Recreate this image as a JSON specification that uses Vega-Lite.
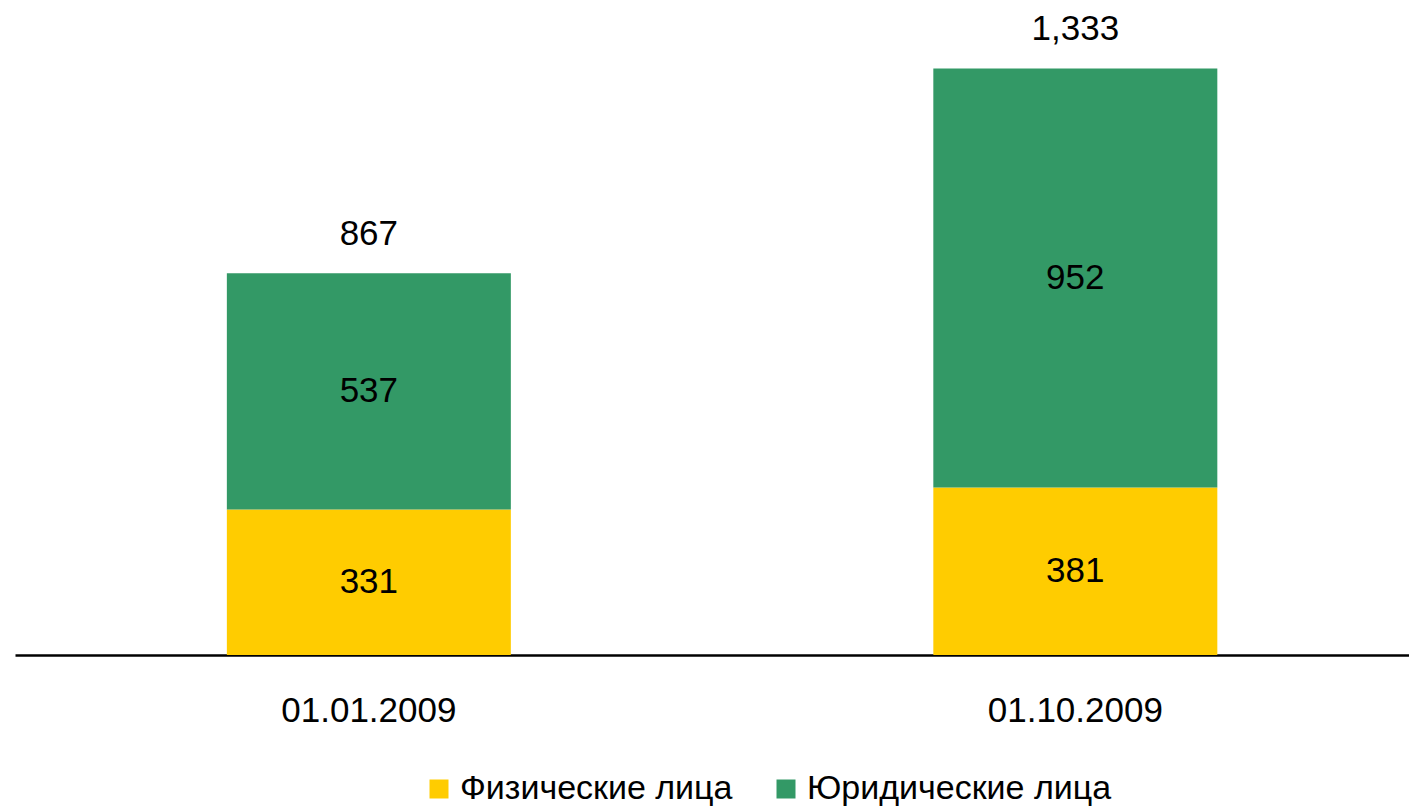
{
  "$schema": "https://vega.github.io/schema/vega-lite/v6.json",
  "width": 1394,
  "height": 655,
  "autosize": {"type": "none"},
  "padding": {"left": 15, "top": 0, "right": 0, "bottom": 153},
  "background": "white",
  "config": {"view": {"stroke": null}, "font": "Liberation Sans"},
  "datasets": {
    "segments": [
      {"date": "01.01.2009", "category": "Физические лица", "value": 331},
      {"date": "01.01.2009", "category": "Юридические лица", "value": 537},
      {"date": "01.10.2009", "category": "Физические лица", "value": 381},
      {"date": "01.10.2009", "category": "Юридические лица", "value": 952}
    ],
    "totals": [
      {"date": "01.01.2009", "total": 867},
      {"date": "01.10.2009", "total": 1333}
    ]
  },
  "layer": [
    {
      "data": {"name": "segments"},
      "transform": [
        {"stack": "value", "groupby": ["date"], "sort": [{"field": "category", "order": "ascending"}], "as": ["v0", "v1"]}
      ],
      "layer": [
        {
          "mark": {"type": "bar"},
          "encoding": {
            "x": {
              "field": "date", "type": "nominal",
              "scale": {"paddingInner": 0.598, "paddingOuter": 0.2856, "align": 0.525},
              "axis": {"title": null, "labelAngle": 0, "ticks": false, "domainColor": "black", "domainWidth": 2.5, "labelFontSize": 35, "labelColor": "black", "labelPadding": 38}
            },
            "y": {"field": "v0", "type": "quantitative", "scale": {"domain": [0, 1489], "nice": false, "zero": true}, "axis": null},
            "y2": {"field": "v1"},
            "color": {
              "field": "category", "type": "nominal",
              "scale": {"domain": ["Физические лица", "Юридические лица"], "range": ["#FFCC00", "#339966"]},
              "legend": {"orient": "none", "legendX": 407, "legendY": 772, "direction": "horizontal", "title": null, "symbolType": "square", "symbolSize": 361, "labelFontSize": 34, "labelOffset": 4, "labelLimit": 0, "columnPadding": 36, "padding": 0, "symbolStrokeWidth": 0, "labelColor": "black"}
            }
          }
        },
        {
          "transform": [{"fold": ["v0", "v1"], "as": ["edge", "pos"]}],
          "mark": {"type": "text", "fontSize": 35, "color": "black", "baseline": "middle"},
          "encoding": {
            "x": {"field": "date", "type": "nominal"},
            "y": {"aggregate": "mean", "field": "pos", "type": "quantitative"},
            "text": {"field": "value", "type": "quantitative"},
            "detail": {"field": "category", "type": "nominal"}
          }
        }
      ]
    },
    {
      "data": {"name": "totals"},
      "mark": {"type": "text", "fontSize": 35, "color": "black", "baseline": "bottom", "dy": -22},
      "encoding": {
        "x": {"field": "date", "type": "nominal"},
        "y": {"field": "total", "type": "quantitative"},
        "text": {"field": "total", "type": "quantitative", "format": ",d"}
      }
    }
  ]
}
